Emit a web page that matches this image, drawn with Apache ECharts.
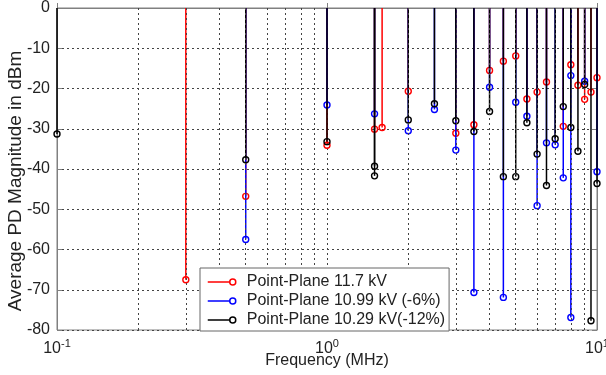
<!DOCTYPE html>
<html>
<head>
<meta charset="utf-8">
<script src="https://cdn.jsdelivr.net/npm/echarts@6/dist/echarts.min.js"></script>
<style>
  html, body { margin: 0; padding: 0; background: #fff; }
  #chart { width: 606px; height: 375px; }
</style>
</head>
<body>
<div id="chart"></div>
<script>
// stem data: [frequency MHz, magnitude dBm]
const redData = [
  [0.3, -67.5], [0.5, -46.8], [1.0, -34.1], [1.5, -30.1], [1.6, -29.7],
  [2.0, -20.7], [3.0, -31.1], [3.5, -29.0], [4.0, -15.5], [4.5, -13.2],
  [5.0, -11.9], [5.5, -22.6], [6.0, -20.9], [6.5, -18.4], [7.5, -29.4],
  [8.0, -14.1], [8.5, -19.2], [9.0, -22.7], [9.5, -20.9], [10, -17.3]
];
const blueData = [
  [0.5, -57.5], [1.0, -24.1], [1.5, -26.3], [2.0, -30.5], [2.5, -25.2],
  [3.0, -35.3], [3.5, -70.7], [4.0, -19.7], [4.5, -71.9], [5.0, -23.4],
  [5.5, -26.9], [6.0, -49.1], [6.5, -33.5], [7.0, -34.0], [7.5, -42.2],
  [8.0, -16.8], [8.0, -76.9], [9.0, -18.2], [10, -40.7]
];
const blackData = [
  [0.1, -31.3], [0.5, -37.7], [1.0, -33.2], [1.5, -39.3], [1.5, -41.7],
  [2.0, -27.8], [2.5, -23.8], [3.0, -28.0], [3.5, -30.7], [4.0, -25.7],
  [4.5, -41.9], [5.0, -41.9], [5.5, -28.5], [6.0, -36.3], [6.5, -44.1],
  [7.0, -32.5], [7.5, -24.5], [8.0, -29.7], [8.5, -35.6], [9.0, -19.0],
  [9.5, -77.7], [10, -43.6]
];
const seriesNames = [
  'Point-Plane 11.7 kV',
  'Point-Plane 10.99 kV (-6%)',
  'Point-Plane 10.29 kV(-12%)'
];
const seriesColors = ['#ff0000', '#0000ff', '#000000'];
const minorGrid = [0.2, 0.3, 0.4, 0.5, 0.6, 0.7, 0.8, 0.9, 2, 3, 4, 5, 6, 7, 8, 9];

const font = "'Liberation Sans', Arial, sans-serif";
const gridLine = { color: '#444', type: [2, 3], width: 1 };

function stemSeries(name, data, color) {
  return {
    name: name,
    type: 'custom',
    clip: false,
    z: 2,
    data: data,
    encode: { x: 0, y: 1 },
    renderItem: function (params, api) {
      const top = api.coord([api.value(0), 0]);
      const p = api.coord([api.value(0), api.value(1)]);
      return {
        type: 'group',
        children: [
          { type: 'line', shape: { x1: top[0], y1: top[1], x2: p[0], y2: p[1] },
            style: { stroke: color, lineWidth: 1.5 } },
          { type: 'circle', shape: { cx: p[0], cy: p[1], r: 3 },
            style: { fill: 'transparent', stroke: color, lineWidth: 1.4 } }
        ]
      };
    }
  };
}

const chart = echarts.init(document.getElementById('chart'), null, { renderer: 'canvas' });

const legendIcon = 'path://M0,3L22,3M22,3A3,3,0,1,1,28,3A3,3,0,1,1,22,3';

chart.setOption({
  animation: false,
  textStyle: { fontFamily: font },
  grid: {
    left: 57, right: 9, top: 8, bottom: 45,
    outerBoundsMode: 'none',
    containLabel: false,
    show: true, borderColor: '#808080', borderWidth: 1
  },
  legend: {
    orient: 'vertical',
    left: 200, top: 268,
    z: 20,
    padding: [6, 4, 3, 7],
    itemGap: 3,
    itemWidth: 28, itemHeight: 6,
    backgroundColor: '#fff',
    borderColor: '#666', borderWidth: 1,
    textStyle: { fontFamily: font, fontSize: 16, color: '#222', lineHeight: 16, padding: [0, 0, 0, 6] },
    data: seriesNames.map((n, i) => ({
      name: n,
      icon: legendIcon,
      itemStyle: { color: 'transparent', borderColor: seriesColors[i], borderWidth: 1.5 }
    }))
  },
  xAxis: {
    type: 'log',
    logBase: 10,
    min: 0.1, max: 10,
    name: 'Frequency (MHz)',
    nameLocation: 'middle',
    nameGap: 23,
    nameMoveOverlap: false,
    nameTextStyle: { fontFamily: font, fontSize: 16, color: '#222', verticalAlign: 'top' },
    axisLine: { lineStyle: { color: '#808080' } },
    axisTick: { inside: true, length: 5, lineStyle: { color: '#808080' } },
    splitLine: { show: true, lineStyle: gridLine },
    axisLabel: {
      margin: 8,
      formatter: function (v) {
        const e = Math.round(Math.log10(v));
        return '{b|10}{s|' + e + '}';
      },
      rich: {
        b: { fontFamily: font, fontSize: 16, color: '#222' },
        s: { fontFamily: font, fontSize: 11, color: '#222', padding: [0, 0, 10, 0] }
      }
    }
  },
  yAxis: [{
    type: 'value',
    min: -80, max: 0, interval: 10,
    name: 'Average PD Magnitude in dBm',
    nameLocation: 'middle',
    nameGap: 32,
    nameMoveOverlap: false,
    nameTextStyle: { fontFamily: font, fontSize: 19, color: '#222', padding: [0, 24, 0, 0] },
    axisLine: { show: true, lineStyle: { color: '#808080' } },
    axisTick: { show: true, inside: true, length: 5, lineStyle: { color: '#808080' } },
    splitLine: { show: true, lineStyle: gridLine },
    axisLabel: { margin: 7, fontFamily: font, fontSize: 16, color: '#222' }
  }, {
    type: 'value',
    position: 'right',
    min: -80, max: 0, interval: 10,
    axisLine: { show: true, lineStyle: { color: '#808080' } },
    axisTick: { show: true, inside: true, length: 5, lineStyle: { color: '#808080' } },
    splitLine: { show: false },
    axisLabel: { show: false }
  }],
  series: [
    {
      name: 'minor-grid',
      type: 'scatter',
      data: [],
      silent: true,
      markLine: {
        silent: true,
        symbol: 'none',
        label: { show: false },
        lineStyle: gridLine,
        data: minorGrid.map(v => ({ xAxis: v }))
      }
    },
    stemSeries(seriesNames[0], redData, seriesColors[0]),
    stemSeries(seriesNames[1], blueData, seriesColors[1]),
    stemSeries(seriesNames[2], blackData, seriesColors[2])
  ]
});
</script>
</body>
</html>
